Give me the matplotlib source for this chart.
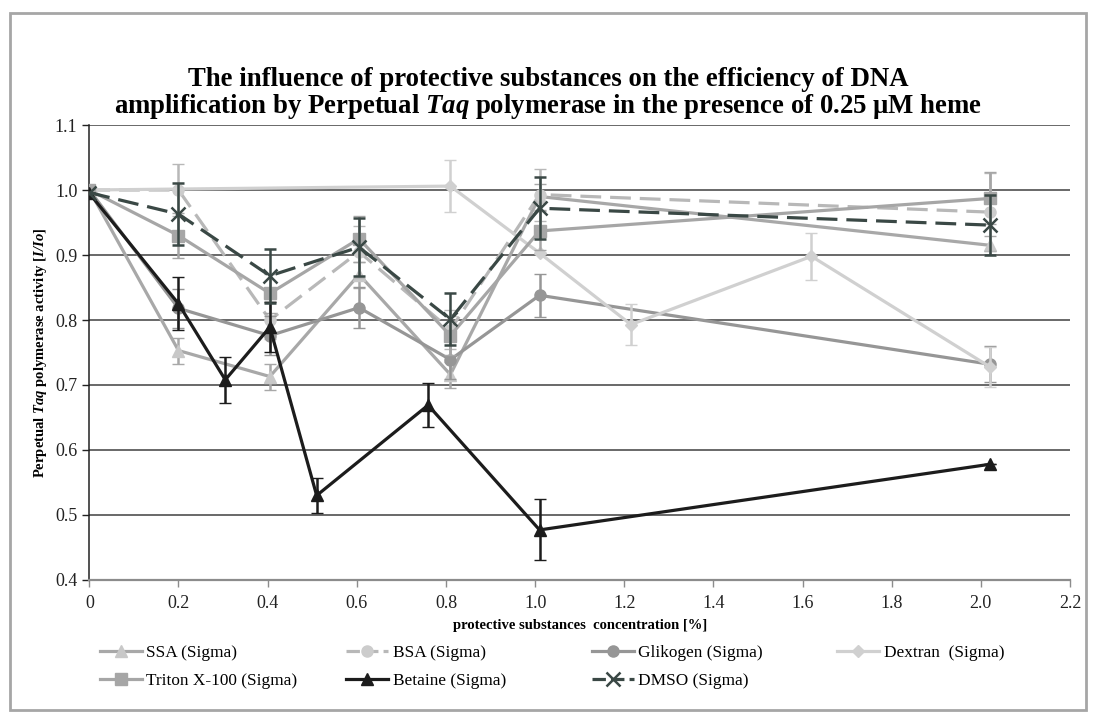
import matplotlib
matplotlib.use("Agg")
import matplotlib.pyplot as plt
from matplotlib.patches import Rectangle
from matplotlib.lines import Line2D

plt.rcParams['font.family'] = ['Liberation Serif', 'DejaVu Serif']
plt.rcParams['mathtext.fontset'] = 'custom'
plt.rcParams['mathtext.rm'] = 'Liberation Serif'
plt.rcParams['mathtext.it'] = 'Liberation Serif:italic'
plt.rcParams['mathtext.bf'] = 'Liberation Serif:bold'
plt.rcParams['mathtext.bfit'] = 'Liberation Serif:italic:bold'

# ---------------- data ----------------
x_common = [0, 0.2, 0.405, 0.605, 0.81, 1.01, 2.02]
x_betaine = [0, 0.2, 0.305, 0.405, 0.51, 0.76, 1.01, 2.02]
x_dextran = [0, 0.81, 1.01, 1.215, 1.62, 2.02]

ssa = [1.0, 0.753, 0.713, 0.870, 0.716, 0.990, 0.915]
ssa_err = [0, 0.02, 0.02, 0.02, 0.02, 0.02, 0.015]
bsa = [1.0, 1.0, 0.800, 0.905, 0.785, 0.993, 0.966]
bsa_err = [0, 0.04, 0.03, 0.04, 0.03, 0.04, 0.06]
glikogen = [1.0, 0.818, 0.776, 0.819, 0.739, 0.838, 0.732]
glikogen_err = [0, 0.03, 0.03, 0.032, 0.03, 0.033, 0.028]
dextran = [1.0, 1.006, 0.903, 0.793, 0.898, 0.728]
dextran_err = [0, 0.04, 0, 0.032, 0.036, 0.031]
triton = [1.0, 0.930, 0.841, 0.925, 0.776, 0.937, 0.987]
triton_err = [0, 0.035, 0.03, 0.035, 0.03, 0.03, 0.04]
betaine = [0.995, 0.825, 0.708, 0.789, 0.530, 0.669, 0.477, 0.578]
betaine_err = [0, 0.041, 0.035, 0.038, 0.027, 0.034, 0.047, 0.0]
dmso = [0.996, 0.963, 0.868, 0.912, 0.801, 0.972, 0.946]
dmso_err = [0, 0.048, 0.042, 0.045, 0.04, 0.048, 0.046]

x_ticks = [0, 0.2, 0.4, 0.6, 0.8, 1.0, 1.2, 1.4, 1.6, 1.8, 2.0, 2.2]
x_ticklabels = ['0', '0.2', '0.4', '0.6', '0.8', '1.0', '1.2', '1.4', '1.6', '1.8', '2.0', '2.2']
y_ticks = [0.4, 0.5, 0.6, 0.7, 0.8, 0.9, 1.0, 1.1]

title = ("The influence of protective substances on the efficiency of DNA\n"
         "amplification by Perpetual $\\mathbfit{Taq}$ polymerase in the presence of 0.25 \u00b5M heme")
ylabel = "Perpetual $\\mathbfit{Taq}$ polymerase activity [$\\mathbfit{I/Io}$]"
xlabel = "protective substances  concentration [%]"

# ---------------- figure ----------------
fig = plt.figure(figsize=(10.96, 7.21), dpi=100)
fig.patches.append(Rectangle((0.009, 0.015), 0.982, 0.967, transform=fig.transFigure,
                             fill=False, edgecolor='#a6a6a6', linewidth=2))
ax = fig.add_axes([0.0815, 0.1956, 0.8948, 0.631])

lw = 2.3
series = [
    dict(x=x_common, y=ssa, e=ssa_err, label='SSA (Sigma)', color='#a8a8a8', mfc='#c8c8c8',
         marker='^', ms=8, ls='-'),
    dict(x=x_common, y=bsa, e=bsa_err, label='BSA (Sigma)', color='#b8b8b8', mfc='#cccccc',
         marker='o', ms=8, ls='--'),
    dict(x=x_common, y=glikogen, e=glikogen_err, label='Glikogen (Sigma)', color='#969696', mfc='#969696',
         marker='o', ms=8, ls='-'),
    dict(x=x_dextran, y=dextran, e=dextran_err, label='Dextran  (Sigma)', color='#d0d0d0', mfc='#d0d0d0',
         marker='D', ms=6, ls='-'),
    dict(x=x_common, y=triton, e=triton_err, label='Triton X-100 (Sigma)', color='#a6a6a6', mfc='#a6a6a6',
         marker='s', ms=8, ls='-'),
    dict(x=x_betaine, y=betaine, e=betaine_err, label='Betaine (Sigma)', color='#1c1c1c', mfc='#1c1c1c',
         marker='^', ms=8, ls='-'),
    dict(x=x_common, y=dmso, e=dmso_err, label='DMSO (Sigma)', color='#3a4845', mfc='#3a4845',
         marker='x', ms=10, ls='--'),
]

handles = []
for i, s in enumerate(series):
    eb = ax.errorbar(s['x'], s['y'], yerr=s['e'], color=s['color'], ecolor=s['color'],
                     elinewidth=1.8, capsize=4.5, capthick=1.8, lw=lw, ls=s['ls'],
                     marker=s['marker'], ms=s['ms'], mfc=s['mfc'], mec=s['mfc'],
                     mew=1.8 if s['marker'] == 'x' else 1, zorder=3 + i)
    line = eb.lines[0]
    if s['ls'] == '--':
        line.set_dashes((6.5, 2.8))
    h = Line2D([], [], color=s['color'], lw=lw, marker=s['marker'], ms=s['ms'],
               mfc=s['mfc'], mec=s['mfc'], mew=1.8 if s['marker'] == 'x' else 1)
    if s['ls'] == '--':
        h.set_dashes((4.2, 1.6))
    handles.append(h)

ax.set_xlim(0, 2.2)
ax.set_ylim(0.4, 1.1)
ax.set_xticks(x_ticks)
ax.set_xticklabels(x_ticklabels)
ax.set_yticks(y_ticks)
ax.set_yticklabels([f"{v:.1f}" for v in y_ticks])
ax.yaxis.grid(True, color='#404040', lw=1.1)
ax.set_axisbelow(True)
for sp in ['top', 'right']:
    ax.spines[sp].set_visible(False)
ax.spines['left'].set_color('#222222')
ax.spines['left'].set_linewidth(1.1)
ax.spines['bottom'].set_color('#8c8c8c')
ax.spines['bottom'].set_linewidth(1.6)
ax.tick_params(axis='both', labelsize=13, colors='#222222', length=5, width=1)
ax.tick_params(axis='x', colors='#8c8c8c', labelcolor='#222222', pad=5.5)

ax.set_xlabel(xlabel, fontsize=10.5, fontweight='bold', labelpad=5)
ax.set_ylabel(ylabel, fontsize=10.5, fontweight='bold', labelpad=4)

fig.text(0.5, 0.870, title, ha='center', va='center', fontsize=19.3, fontweight='bold',
         linespacing=1.0)

# legend: two rows, four columns placed individually
col_x = [0.0912, 0.3157, 0.5401, 0.7637]
cols = [[0, 4], [1, 5], [2, 6], [3]]
for cx, idx in zip(col_x, cols):
    fig.legend([handles[k] for k in idx], [series[k]['label'] for k in idx],
               loc='upper left', bbox_to_anchor=(cx, 0.105), frameon=False,
               fontsize=12.4, handlelength=2.45, handletextpad=0.25, labelspacing=0.68,
               borderaxespad=0, borderpad=0)

fig.savefig('out.png', dpi=100)
